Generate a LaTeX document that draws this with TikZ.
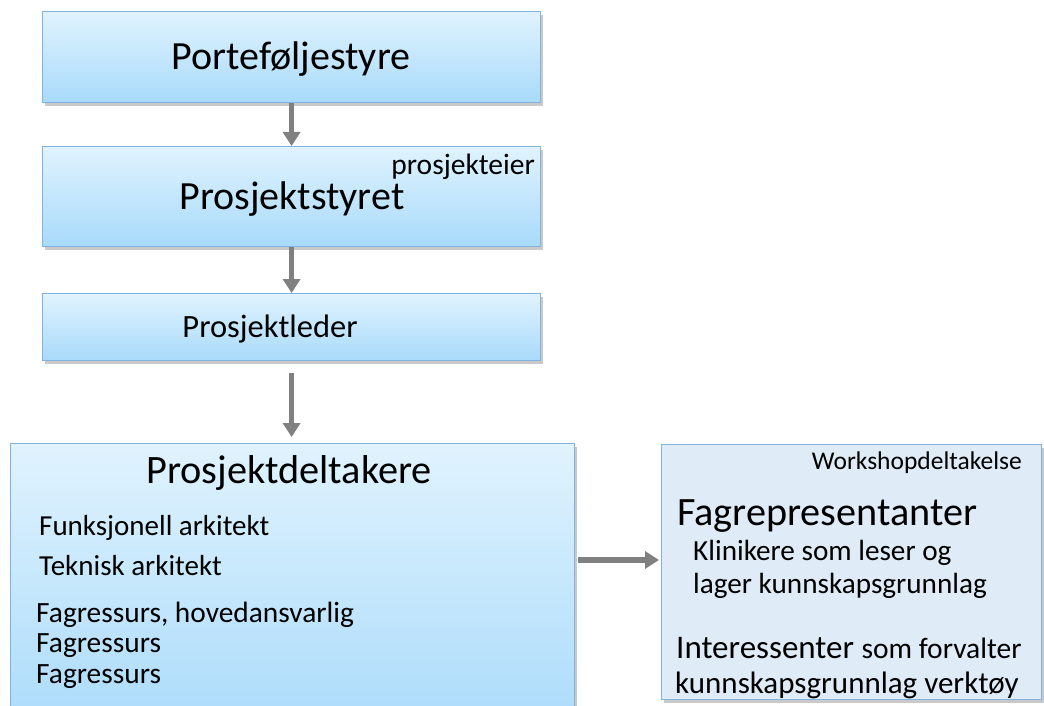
\documentclass[tikz,border=0pt]{standalone}
\usepackage{fontspec}
\setmainfont{Carlito}
\usetikzlibrary{arrows.meta,shadows}
\definecolor{boxtop}{RGB}{224,243,254}
\definecolor{boxbot}{RGB}{168,218,250}
\definecolor{boxline}{RGB}{130,178,222}
\definecolor{wsfill}{RGB}{223,236,247}
\definecolor{arrowgray}{RGB}{128,128,128}
\newcommand{\fsz}[1]{\fontsize{#1}{#1}\selectfont}
\tikzset{
  gbox/.style={draw=boxline, line width=1.2pt, top color=boxtop, bottom color=boxbot,
    drop shadow={shadow xshift=2pt, shadow yshift=-3pt, opacity=0.35, fill=black!60},
    inner sep=0pt, anchor=north west},
  wbox/.style={draw=boxline, line width=1.2pt, fill=wsfill,
    drop shadow={shadow xshift=2pt, shadow yshift=-3pt, opacity=0.35, fill=black!60},
    inner sep=0pt, anchor=north west},
  txt/.style={inner sep=0pt, text=black},
  conn/.style={draw=arrowgray, line width=5.5pt, -{Triangle[width=17pt,length=14pt]}},
}
\begin{document}
\begin{tikzpicture}[x=1pt,y=-1pt]
\clip (0,0) rectangle (1044,706);
\fill[white] (0,0) rectangle (1044,706);

% boxes
\node[gbox, minimum width=498pt, minimum height=91pt] (b1) at (42,11) {};
\node[gbox, minimum width=498pt, minimum height=100pt] (b2) at (42,146) {};
\node[gbox, minimum width=498pt, minimum height=67pt] (b3) at (42,293) {};
\node[gbox, minimum width=564pt, minimum height=300pt] (b4) at (10,443) {};
\node[wbox, minimum width=380pt, minimum height=255pt] (b5) at (661,444) {};

% texts
\node[txt, anchor=base] (t1) at (291,70) {\fsz{40}Porteføljestyre};
\node[txt, anchor=base] (t2) at (292,209) {\fsz{40}Prosjektstyret};
\node[txt, anchor=base east] (t2b) at (535,175) {\fsz{29.5}prosjekteier};
\node[txt, anchor=base] (t3) at (270,337) {\fsz{32.5}Prosjektleder};
\node[txt, anchor=base] (t4) at (289,483) {\fsz{40.3}Prosjektdeltakere};
\node[txt, anchor=base west] (t4a) at (39,535) {\fsz{29}Funksjonell arkitekt};
\node[txt, anchor=base west] (t4b) at (39,575) {\fsz{29}Teknisk arkitekt};
\node[txt, anchor=base west] (t4c) at (36,622) {\fsz{29.4}Fagressurs, hovedansvarlig};
\node[txt, anchor=base west] (t4d) at (36,652) {\fsz{29.4}Fagressurs};
\node[txt, anchor=base west] (t4e) at (36,683) {\fsz{29.4}Fagressurs};

\node[txt, anchor=base east] (t5a) at (1022,469) {\fsz{25.5}Workshopdeltakelse};
\node[txt, anchor=base west] (t5b) at (677,525) {\fsz{40.2}Fagrepresentanter};
\node[txt, anchor=base west] (t5c) at (693,560) {\fsz{29.2}Klinikere som leser og};
\node[txt, anchor=base west] (t5d) at (693,593) {\fsz{29.2}lager kunnskapsgrunnlag};
\node[txt, anchor=base west] (t5e) at (676,658) {\fsz{33}Interessenter \fsz{29.5}som forvalter};
\node[txt, anchor=base west] (t5f) at (675,693) {\fsz{31}kunnskapsgrunnlag verktøy};

% connectors
\draw[conn] (b1.south) -- (b2.north);
\draw[conn] (b2.south) -- (b3.north);
\draw[conn, shorten <=12pt, shorten >=6pt] (b3.south) -- (b4.north -| b3.south);
\coordinate (ay) at (0,560);
\draw[conn, shorten <=3pt, shorten >=2pt] (b4.east |- ay) -- (b5.west |- ay);
\end{tikzpicture}
\end{document}
